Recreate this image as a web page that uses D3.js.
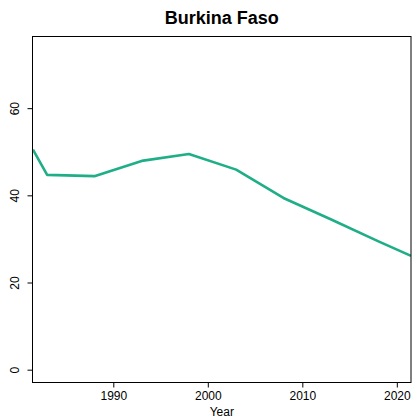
<!DOCTYPE html>
<html><head><meta charset="utf-8">
<script src="https://cdn.jsdelivr.net/npm/d3@7"></script>
<style>body{margin:0;background:#fff}svg{display:block;font-family:"Liberation Sans",Arial,sans-serif}</style>
</head><body>
<script>
const years  = [1981.5, 1983, 1988, 1993, 1998, 2003, 2008, 2013, 2018, 2021.5];
const values = [50.5, 44.7, 44.4, 47.9, 49.5, 45.9, 39.4, 34.5, 29.5, 26.1];
const xTicks = [1990, 2000, 2010, 2020];
const yTicks = [0, 20, 40, 60];
const title = "Burkina Faso";
const xLabel = "Year";

const W = 414, H = 418;
const L = 32.5, R = 411, T = 36.5, B = 382.5;
const svg = d3.select("body").append("svg").attr("width", W).attr("height", H);
const x = d3.scaleLinear().domain([1981.45, 2021.5]).range([L, R]);
const y = d3.scaleLinear().domain([-2.94, 76.44]).range([B, T]);

svg.append("defs").append("clipPath").attr("id","c").append("rect")
  .attr("x", L).attr("y", T).attr("width", R-L).attr("height", B-T);

svg.append("path").datum(years.map((d,i)=>[d, values[i]]))
  .attr("clip-path","url(#c)")
  .attr("fill","none").attr("stroke","#1fae87").attr("stroke-width",2.6)
  .attr("stroke-linejoin","round")
  .attr("d", d3.line().x(d=>x(d[0])).y(d=>y(d[1])));

svg.append("rect").attr("x",L).attr("y",T).attr("width",R-L).attr("height",B-T)
  .attr("fill","none").attr("stroke","#000").attr("stroke-width",1);

const gx = svg.append("g").attr("transform",`translate(0,${B})`)
  .call(d3.axisBottom(x).tickValues(xTicks).tickFormat(d3.format("d")).tickSize(5).tickPadding(4));
gx.select(".domain").remove();
gx.selectAll("text").attr("font-size",12).attr("font-family","Liberation Sans, Arial, sans-serif").attr("fill","#000");

const gy = svg.append("g").attr("transform",`translate(${L},0)`)
  .call(d3.axisLeft(y).tickValues(yTicks).tickSize(5));
gy.select(".domain").remove();
gy.selectAll("text").remove();
gy.selectAll(".tick").append("text")
  .attr("transform","translate(-14,0) rotate(-90)")
  .attr("text-anchor","middle").attr("fill","#000")
  .attr("font-size",12).attr("font-family","Liberation Sans, Arial, sans-serif")
  .text(d=>d);

svg.append("text").attr("x",(L+R)/2).attr("y",24).attr("text-anchor","middle")
  .attr("font-weight","bold").attr("font-size",18).text(title);
svg.append("text").attr("x",(L+R)/2).attr("y",416).attr("text-anchor","middle")
  .attr("font-size",12).text(xLabel);
</script>
</body></html>
